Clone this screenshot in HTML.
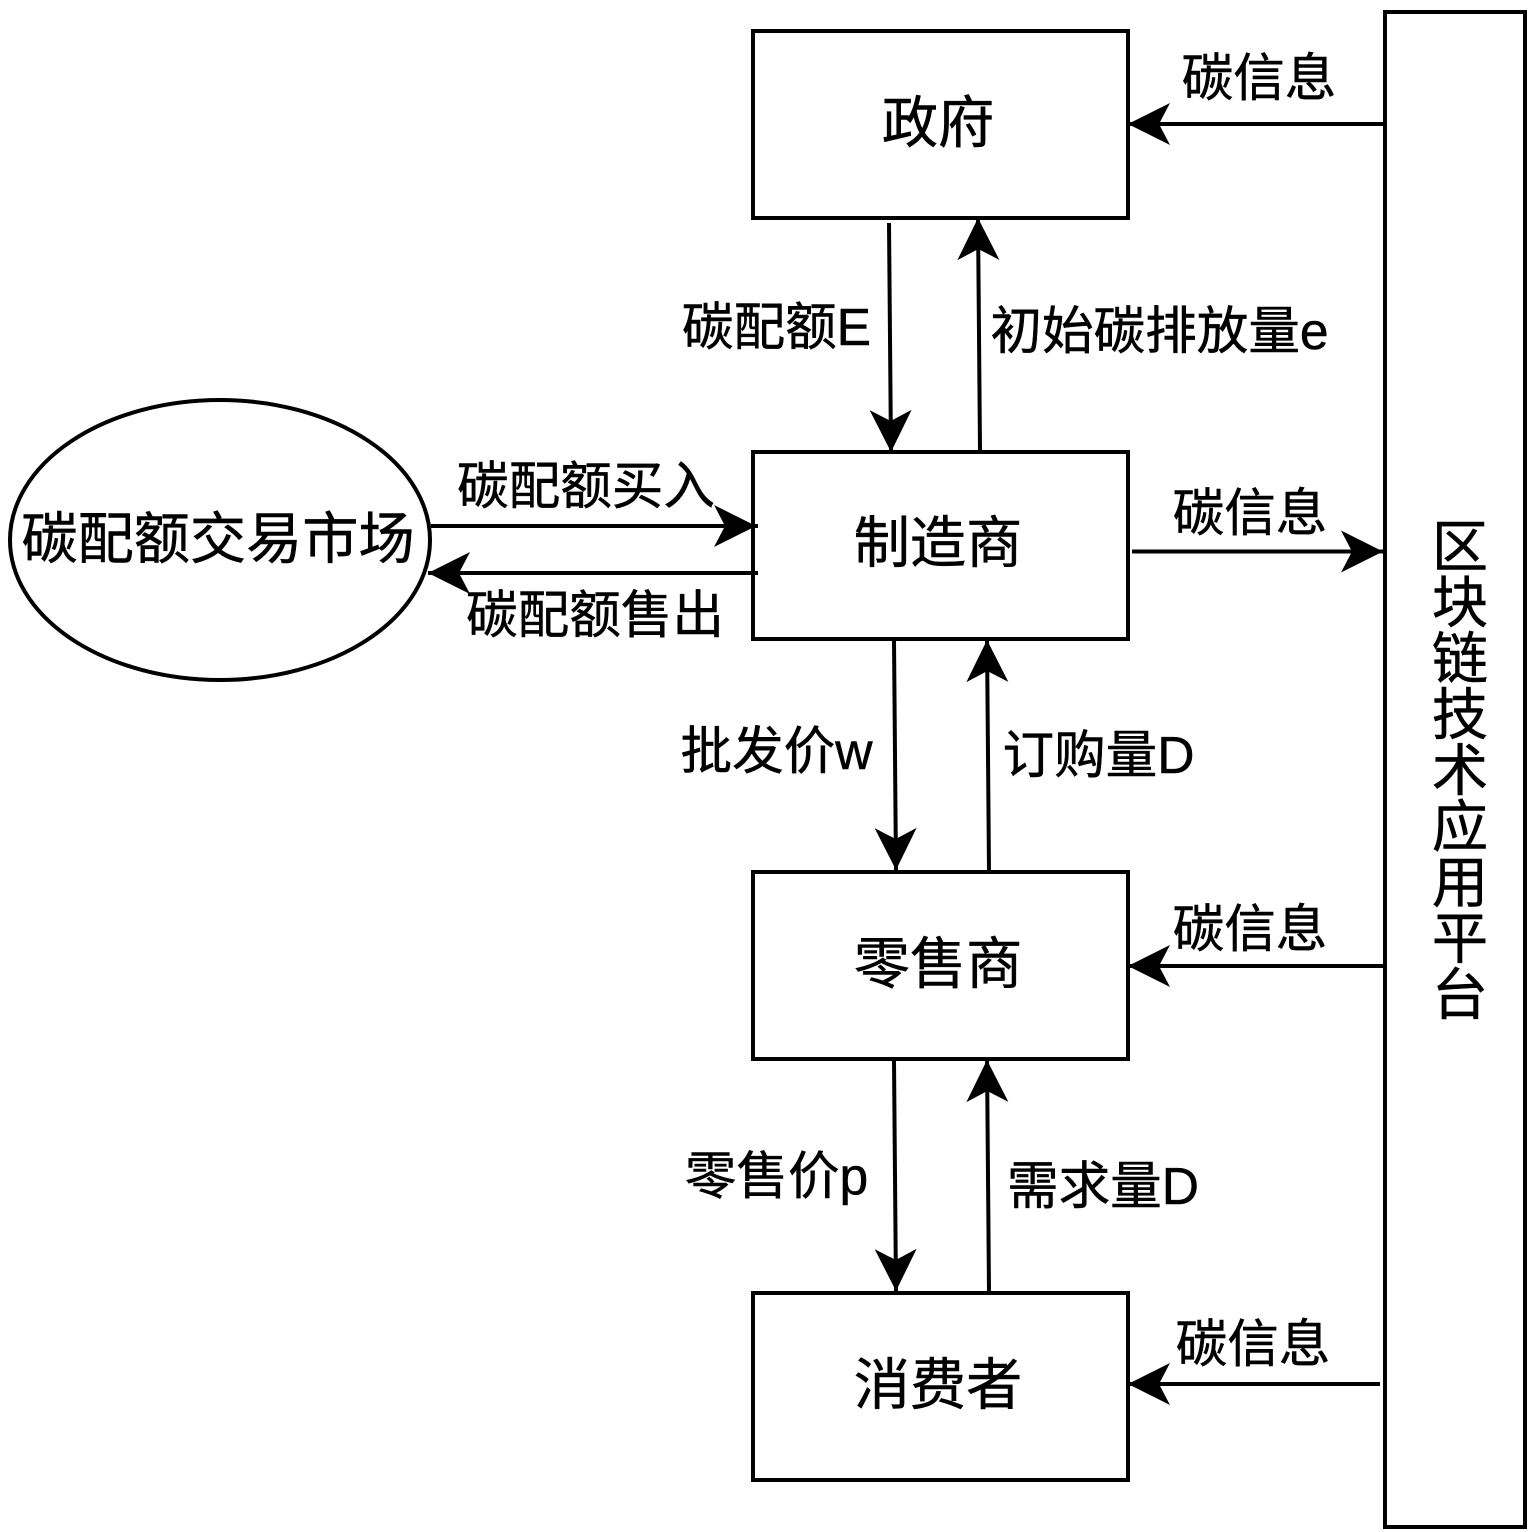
<!DOCTYPE html>
<html><head><meta charset="utf-8"><style>
html,body{margin:0;padding:0;background:#fff}
svg{display:block}
text{font-family:"Liberation Sans","WenQuanYi Zen Hei","Noto Sans CJK SC",sans-serif;fill:#000;stroke:#000;stroke-width:.5px;text-anchor:middle;dominant-baseline:central}
.l{font-size:51.6px}
.b{font-size:56.2px}
.box{fill:#fff;stroke:#000;stroke-width:4}
.ln{stroke:#000;stroke-width:4;fill:none}
</style></head><body>
<svg width="1536" height="1532" viewBox="0 0 1536 1532" xmlns="http://www.w3.org/2000/svg">
<defs><marker id="a" markerUnits="userSpaceOnUse" markerWidth="44" markerHeight="44" refX="42" refY="22" orient="auto"><path d="M0 1L42 22L0 43L11 22Z" fill="#000"/></marker></defs>
<rect class="box" x="753" y="31" width="375" height="187"/>
<rect class="box" x="753" y="452" width="375" height="187"/>
<rect class="box" x="753" y="872" width="375" height="187"/>
<rect class="box" x="753" y="1293" width="375" height="187"/>
<rect class="box" x="1385" y="12" width="140" height="1515"/>
<ellipse class="box" cx="220" cy="540" rx="210" ry="140"/>
<g class="ln">
<path d="M1385 124H1128" marker-end="url(#a)"/>
<path d="M889 223L891 452" marker-end="url(#a)"/>
<path d="M980 450L978 218" marker-end="url(#a)"/>
<path d="M431 526H756" marker-end="url(#a)"/>
<path d="M750 526H758"/>
<path d="M758 573H428" marker-end="url(#a)"/>
<path d="M1132 551.5H1383" marker-end="url(#a)"/>
<path d="M894 640L896 870" marker-end="url(#a)"/>
<path d="M989 871L987 640" marker-end="url(#a)"/>
<path d="M1385 966H1128" marker-end="url(#a)"/>
<path d="M894 1061L896 1291" marker-end="url(#a)"/>
<path d="M989 1292L987 1060" marker-end="url(#a)"/>
<path d="M1380 1384H1128" marker-end="url(#a)"/>
</g>
<text class="b" x="938" y="123">政府</text>
<text class="b" x="938" y="543">制造商</text>
<text class="b" x="938" y="964">零售商</text>
<text class="b" x="938" y="1385">消费者</text>
<text class="b" x="218" y="539">碳配额交易市场</text>
<text class="l" x="1259" y="78">碳信息</text>
<text class="l" x="1250" y="513">碳信息</text>
<text class="l" x="1250" y="929">碳信息</text>
<text class="l" x="1253" y="1344">碳信息</text>
<text class="l" x="776.5" y="327">碳配额E</text>
<text class="l" x="1159.5" y="331">初始碳排放量e</text>
<text class="l" x="586" y="486">碳配额买入</text>
<text class="l" x="595" y="615">碳配额售出</text>
<text class="l" x="776.5" y="751">批发价w</text>
<text class="l" x="1098.5" y="755">订购量D</text>
<text class="l" x="776.5" y="1176">零售价p</text>
<text class="l" x="1103" y="1186">需求量D</text>
<g class="b">
<text x="1460" y="547">区</text><text x="1460" y="603">块</text><text x="1460" y="659">链</text><text x="1460" y="715">技</text><text x="1460" y="771">术</text><text x="1460" y="827">应</text><text x="1460" y="883">用</text><text x="1460" y="939">平</text><text x="1460" y="995">台</text>
</g>
</svg>
</body></html>
